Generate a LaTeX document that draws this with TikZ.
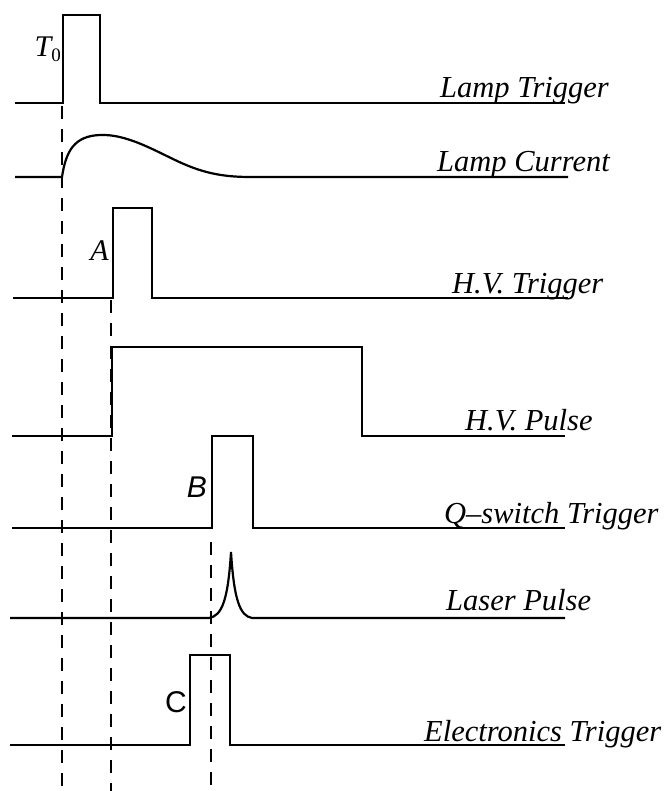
\documentclass[tikz,border=0pt]{standalone}
\usepackage{fontspec}
\setmainfont{Liberation Serif}
\setsansfont{Liberation Sans}
\begin{document}
\begin{tikzpicture}[x=1pt,y=-1pt,
  sig/.style={line width=2.2pt,line join=miter},
  guide/.style={line width=2.2pt,dash pattern=on 13pt off 10pt},
  lbl/.style={anchor=base west,inner sep=0pt,font=\fontsize{30.5}{34}\selectfont\itshape},
  letterlbl/.style={inner sep=0pt,font=\fontsize{30}{34}\selectfont}]
\useasboundingbox (0,0) rectangle (671,791);
% Lamp Trigger
\draw[sig] (15,103) -- (63,103) -- (63,15) -- (100,15) -- (100,103) -- (565,103);
\node[lbl] (l1) at (440,98) {Lamp Trigger};
\node[letterlbl,anchor=base east] (t0) at (61,57) {\itshape T\upshape\raisebox{-0.15em}{\fontsize{19}{21}\selectfont 0}};
% Lamp Current
\draw[sig] (15,177) -- (62,177) .. controls (66,150) and (75,136) .. (100,135)
  .. controls (125,134) and (150,148) .. (175,160)
  .. controls (200,172) and (220,177) .. (250,177) -- (568,177);
\node[lbl] (l2) at (437,172) {Lamp Current};
% H.V. Trigger
\draw[sig] (13,298) -- (113,298) -- (113,208) -- (152,208) -- (152,298) -- (568,298);
\node[lbl] (l3) at (452,293) {H.V. Trigger};
\node[letterlbl,anchor=base east] (a) at (109,261) {\itshape A};
% H.V. Pulse
\draw[sig] (12,436) -- (112,436) -- (112,347) -- (362,347) -- (362,436) -- (565,436);
\node[lbl] (l4) at (465,430) {H.V. Pulse};
% Q-switch Trigger
\draw[sig] (12,528) -- (212,528) -- (212,436) -- (253,436) -- (253,528) -- (565,528);
\node[lbl] (l5) at (444,523) {Q--switch Trigger};
\node[letterlbl,anchor=base east] (b) at (207,497) {\sffamily\itshape B};
% Laser Pulse
\draw[sig] (10,618) -- (209,618) .. controls (222,616) and (228,600) .. (231,552)
  .. controls (234,600) and (240,616) .. (252,618) -- (565,618);
\node[lbl] (l6) at (446,610) {Laser Pulse};
% Electronics Trigger
\draw[sig] (10,745) -- (190,745) -- (190,655) -- (230,655) -- (230,745) -- (565,745);
\node[lbl] (l7) at (424,741) {Electronics Trigger};
\node[letterlbl,anchor=base east] (c) at (187,712) {\sffamily C};
% guide lines
\coordinate (g1t) at (62,106);
\coordinate (g1b) at (62,791);
\coordinate (g2t) at (111,300);
\coordinate (g2b) at (111,791);
\coordinate (g3t) at (211,542);
\coordinate (g3b) at (211,791);
\draw[guide] (g1t) -- (g1b);
\draw[guide] (g2t) -- (g2b);
\draw[guide] (g3t) -- (g3b);
\end{tikzpicture}
\end{document}
